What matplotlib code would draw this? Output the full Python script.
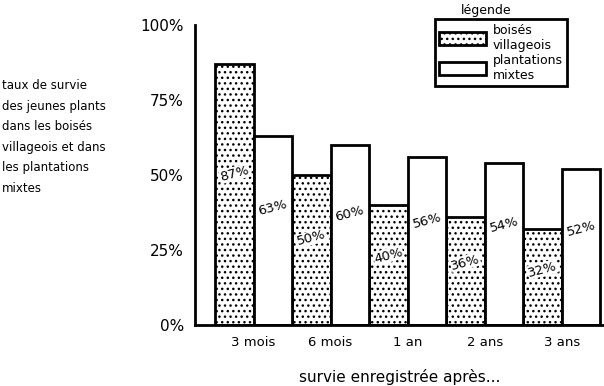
import matplotlib.pyplot as plt
import numpy as np

categories = ["3 mois", "6 mois", "1 an", "2 ans", "3 ans"]
boises = [87, 50, 40, 36, 32]
plantations = [63, 60, 56, 54, 52]
yticks = [0, 25, 50, 75, 100]
side_text = ("taux de survie\ndes jeunes plants\ndans les boisés\n"
             "villageois et dans\nles plantations\nmixtes")

plt.rcParams["hatch.linewidth"] = 1.0
fig = plt.figure(figsize=(6.04, 3.86), dpi=100)
ax = fig.add_axes([0.323, 0.158, 0.677, 0.777])

x = np.arange(len(categories))
w = 0.5
b1 = ax.bar(x - w / 2, boises, w, facecolor="white", edgecolor="black",
            hatch="...", linewidth=2)
b2 = ax.bar(x + w / 2, plantations, w, facecolor="white", edgecolor="black",
            linewidth=2)

# value labels, slanted like the hand-written ones
for xi, v in zip(x - w / 2, boises):
    ax.text(xi, v * 0.58, f"{v}%", ha="center", va="center", rotation=15,
            fontsize=9.5, bbox=dict(facecolor="white", edgecolor="none", pad=0.3))
for xi, v in zip(x + w / 2, plantations):
    ax.text(xi, v * 0.62, f"{v}%", ha="center", va="center", rotation=15,
            fontsize=9.5)

ax.set_xlim(-0.76, 4.55)
ax.set_ylim(0, 100)
ax.set_xticks(x)
ax.set_xticklabels(categories, fontsize=9.5)
ax.set_yticks(yticks)
ax.set_yticklabels([f"{t}%" for t in yticks], fontsize=11)
ax.tick_params(length=0, pad=8)
ax.spines[["top", "right"]].set_visible(False)
ax.spines[["left", "bottom"]].set_linewidth(2)
ax.set_xlabel("survie enregistrée après...", fontsize=11, labelpad=14)

leg = ax.legend([b1, b2], ["boisés\nvillageois", "plantations\nmixtes"],
                loc="upper right", bbox_to_anchor=(0.925, 1.04),
                fontsize=9, frameon=True, fancybox=False, framealpha=1,
                edgecolor="black", handlelength=3.8, handleheight=1.2,
                labelspacing=0.15, borderpad=0.35, handletextpad=0.5)
leg.get_frame().set_linewidth(2)
fig.text(0.805, 0.972, "légende", ha="center", va="center", fontsize=9)

fig.text(0.003, 0.795, side_text, ha="left", va="top", fontsize=8.5,
         linespacing=1.75)

fig.savefig("out.png", dpi=100)
